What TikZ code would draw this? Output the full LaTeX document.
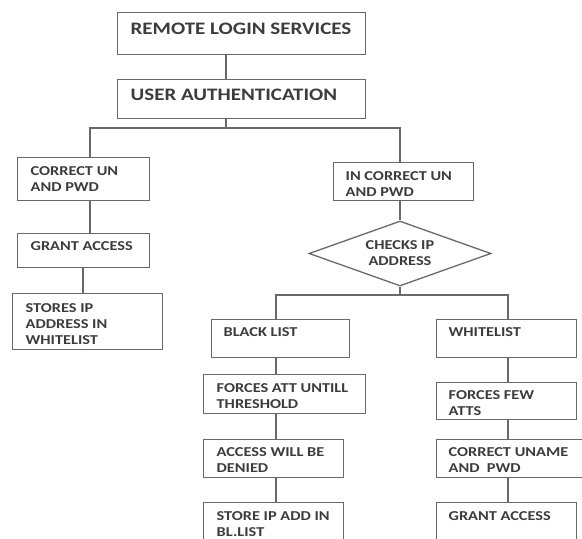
\documentclass[tikz,border=0pt]{standalone}
\usepackage{fontspec}
\newfontfamily\cf[FakeStretch=1.2]{Carlito}
\usetikzlibrary{shapes.geometric,calc}
\definecolor{linec}{RGB}{105,105,105}
\definecolor{textc}{RGB}{60,60,60}
\newcommand\bt[5]{\parbox[c][#2pt][t]{#1pt}{\raggedright\leftskip=#3pt\relax\vspace*{#4pt}#5}}
\begin{document}
\begin{tikzpicture}[x=1pt,y=1pt,
  box/.style={draw=linec, line width=1.3pt, rectangle, inner sep=0pt, anchor=north west, text=textc,
    font=\cf\bfseries\fontsize{13.6}{16}\selectfont},
  big/.style={font=\cf\bfseries\fontsize{17.5}{20}\selectfont},
  conn/.style={draw=linec, line width=1.3pt}]
\useasboundingbox (0,0) rectangle (582,-539);
\clip (0,0) rectangle (582,-539);
\fill[white] (0,0) rectangle (582,-539);
% boxes
\node[box,big] (remote) at (117,-12) {\bt{248}{42}{13}{10}{REMOTE LOGIN SERVICES}};
\node[box,big] (auth) at (117,-79) {\bt{248}{39}{13}{9}{USER AUTHENTICATION}};
\node[box] (cor) at (17,-157) {\bt{132}{43}{13}{9}{CORRECT UN\\AND PWD}};
\node[box] (incor) at (333,-162) {\bt{140}{38}{12}{9}{IN CORRECT UN\\AND PWD}};
\node[box] (grant1) at (17,-233) {\bt{132}{34}{13}{8}{GRANT ACCESS}};
\node[box] (stores) at (12,-293) {\bt{150}{56}{13}{10}{STORES IP\\ADDRESS IN\\WHITELIST}};
\node[diamond, draw=linec, line width=1.3pt, aspect=2.8, inner sep=0pt, minimum width=182pt,
  minimum height=65pt, text=textc, align=center, font=\cf\bfseries\fontsize{13.6}{16}\selectfont]
  (chk) at (400,-253.5) {CHECKS IP\\ADDRESS};
\node[box] (black) at (211,-319) {\bt{138}{38}{12}{8}{BLACK LIST}};
\node[box] (white) at (436,-319) {\bt{140}{38}{12}{8}{WHITELIST}};
\node[box] (fatt) at (203,-374) {\bt{162}{39}{13}{9}{FORCES ATT UNTILL\\THRESHOLD}};
\node[box] (ffew) at (436,-382) {\bt{140}{37}{12}{8}{FORCES FEW\\ATTS}};
\node[box] (denied) at (203,-439) {\bt{140}{38}{13}{8}{ACCESS WILL BE\\DENIED}};
\node[box] (cuname) at (436,-439) {\bt{148}{38}{12}{8}{CORRECT UNAME\\AND\ \ PWD}};
\node[box] (storeip) at (203,-502) {\bt{140}{58}{13}{9}{STORE IP ADD IN\\BL.LIST}};
\node[box] (grant2) at (436,-502) {\bt{140}{58}{12}{9}{GRANT ACCESS}};
% junctions
\coordinate (j1) at (226,-128);
\coordinate (jl) at (90,-128);
\coordinate (jr) at (400,-128);
\coordinate (xs) at (83,0);
\coordinate (j2) at (400,-295);
\coordinate (bl) at (276,-295);
\coordinate (wr) at (508,-295);
% connectors
\draw[conn] (remote.south -| j1) -- (auth.north -| j1);
\draw[conn] (auth.south -| j1) -- (j1);
\draw[conn] (cor.north -| jl) -- (jl) -- (jr) -- (incor.north -| jr);
\draw[conn] (cor.south -| jl) -- (grant1.north -| jl);
\draw[conn] (grant1.south -| xs) -- (stores.north -| xs);
\draw[conn] (incor.south -| jr) -- (chk.north);
\draw[conn] (chk.south) -- (j2);
\draw[conn] (black.north -| bl) -- (bl) -- (wr) -- (white.north -| wr);
\draw[conn] (black.south -| bl) -- (fatt.north -| bl);
\draw[conn] (fatt.south -| bl) -- (denied.north -| bl);
\draw[conn] (denied.south -| bl) -- (storeip.north -| bl);
\draw[conn] (white.south -| wr) -- (ffew.north -| wr);
\draw[conn] (ffew.south -| wr) -- (cuname.north -| wr);
\draw[conn] (cuname.south -| wr) -- (grant2.north -| wr);
\end{tikzpicture}
\end{document}
